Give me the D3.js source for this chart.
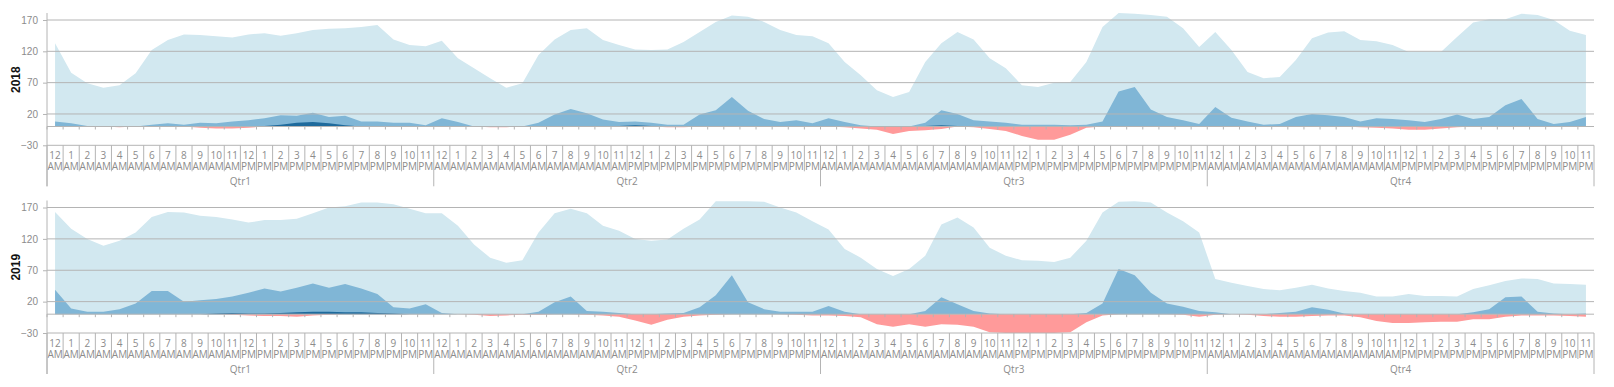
<!DOCTYPE html>
<html><head><meta charset="utf-8">
<script src="https://cdn.jsdelivr.net/npm/d3@7"></script>
<style>
html,body{margin:0;padding:0;background:#fff;}
svg{display:block;font-family:"Open Sans","Segoe UI",sans-serif;}
</style></head>
<body>
<svg id="chart" width="1614" height="387"></svg>
<script>
// ---------- DATA ----------
const quarters = ["Qtr1","Qtr2","Qtr3","Qtr4"];
const hourNums = ["12","1","2","3","4","5","6","7","8","9","10","11","12","1","2","3","4","5","6","7","8","9","10","11"];
const hourAmPm = ["AM","AM","AM","AM","AM","AM","AM","AM","AM","AM","AM","AM","PM","PM","PM","PM","PM","PM","PM","PM","PM","PM","PM","PM"];
const years = ["2018","2019"];
const yTicks = [170,120,70,20,-30];

const light2018 = [
133,86,69,62,66,85,122,138,147,146,144,142,147,149,145,149,154,156,157,159,162,139,130,128,
137,109,93,77,62,69,114,139,154,157,138,130,123,122,123,135,151,167,177,175,167,154,146,144,
133,103,82,58,47,55,103,133,151,139,109,93,66,63,70,71,103,159,181,180,178,175,157,127,
151,122,87,77,79,106,141,150,152,138,136,130,119,119,119,143,166,171,171,180,178,170,153,146];
const medium2018 = [
8,5,1,0,0,0,3,5,3,6,5,8,10,13,18,17,22,15,17,8,8,6,6,2,
13,7,0,0,0,0,6,19,28,21,11,7,8,6,3,3,19,26,47,25,12,7,10,5,
13,7,2,0,0,0,6,26,20,10,8,6,3,3,3,2,3,8,56,63,27,15,10,4,
31,14,8,3,4,15,20,18,15,8,13,12,10,7,12,19,12,15,34,44,12,4,7,15];
const dark2018 = [
0,0,0,0,0,0,0,0,0,0,0,0,0,1,3,6,7,5,2,0,0,0,0,0,
0,0,0,0,0,0,0,0,0,0,0,1,2,1,0,0,0,0,0,0,0,0,0,0,
0,0,0,0,0,0,1,2,1,0,0,0,0,0,0,0,0,0,0,0,0,0,0,0,
0,0,0,0,0,0,0,0,0,0,0,0,0,0,0,0,0,0,0,0,0,0,0,0];
const neg2018 = [
0,0,0,0,-1,0,0,0,0,-2,-3,-3,-2,0,0,0,0,0,0,0,0,0,0,0,
0,0,0,-1,-1,0,0,0,0,0,0,0,0,0,-1,-1,0,0,0,0,0,0,0,0,
0,-1,-3,-5,-12,-7,-6,-4,0,-1,-4,-7,-15,-21,-21,-13,-2,0,0,0,0,0,0,0,
0,0,0,0,0,0,0,0,0,-1,-2,-3,-5,-5,-3,-1,0,0,0,0,0,0,0,0];

const light2019 = [
163,136,120,109,117,130,155,163,162,157,155,151,146,150,150,152,161,170,172,178,178,175,168,161,
161,141,111,90,82,86,130,161,168,161,141,133,120,117,119,136,151,180,180,180,179,170,162,148,
135,104,90,72,61,72,93,143,154,138,106,93,86,85,83,90,117,162,179,180,178,162,148,130,
56,50,45,40,38,42,47,41,37,34,28,28,32,29,29,28,40,46,53,57,56,49,48,47];
const medium2019 = [
39,9,4,4,8,17,37,37,20,22,24,28,34,41,36,42,49,42,48,41,32,11,9,16,
2,0,0,0,0,0,4,19,28,5,4,2,0,0,1,2,11,30,62,19,8,4,4,4,
13,4,0,0,0,0,5,27,16,5,1,0,0,0,0,0,2,17,72,62,34,17,12,5,
3,0,0,0,2,4,11,7,1,0,0,0,0,0,0,0,3,8,27,28,4,1,0,1];
const dark2019 = [
0,0,0,0,0,0,0,0,0,0,1,2,1,1,2,3,4,4,3,3,2,1,0,0,
0,0,0,0,0,0,0,0,0,0,0,0,0,0,0,0,0,0,0,0,0,0,0,0,
0,0,0,0,0,0,0,0,0,0,0,0,0,0,0,0,0,0,0,0,0,0,0,0,
0,0,0,0,0,0,0,0,0,0,0,0,0,0,0,0,0,0,0,0,0,0,0,0];
const neg2019 = [
0,0,0,0,0,0,0,0,0,0,0,-1,-2,-3,-3,-4,-2,-1,0,0,0,0,0,0,
0,0,-1,-3,-2,-1,-1,0,0,-1,-2,-4,-10,-17,-9,-4,-2,-1,0,0,0,0,-1,-2,
-2,-3,-5,-16,-20,-16,-20,-16,-17,-20,-29,-30,-30,-30,-30,-29,-13,-2,0,0,0,0,-1,-4,
-1,0,-1,-3,-4,-4,-3,-2,-2,-5,-11,-14,-14,-13,-12,-12,-8,-8,-4,-2,-2,-2,-3,-4];

const seriesByYear = {
  "2018": {light: light2018, medium: medium2018, dark: dark2018, neg: neg2018},
  "2019": {light: light2019, medium: medium2019, dark: dark2019, neg: neg2019}
};

// ---------- LAYOUT ----------
const colors = {light:"#d2e8f0", medium:"#80b6d6", dark:"#1e6a9c", neg:"#ff9a9a"};
const gridColor = "#b4b4b4";
const textColor = "#8c8c8c";
const left = 47, right = 1594;
const panels = [{top:20, bottom:145.3}, {top:207.5, bottom:333}];

const keys = [];
quarters.forEach((q,qi)=>hourNums.forEach((h,hi)=>keys.push(qi*24+hi)));

const x = d3.scaleBand().domain(keys).range([left,right]).paddingInner(0).paddingOuter(0);
const cx = i => x(i) + x.bandwidth()/2;

const svg = d3.select("#chart");

years.forEach((yr, pi) => {
  const p = panels[pi];
  const y = d3.scaleLinear().domain([-30,170]).range([p.bottom, p.top]);
  const g = svg.append("g");
  const s = seriesByYear[yr];

  const area = d3.area().x((d,i)=>cx(i)).y0(y(0)).y1(d=>y(d)).curve(d3.curveLinear);
  ["light","medium","dark","neg"].forEach(k=>{
    g.append("path").datum(s[k]).attr("d", area).attr("fill", colors[k]);
  });

  // gridlines & y axis
  const yAxis = d3.axisLeft(y).tickValues(yTicks).tickSize(4).tickPadding(5);
  const ya = g.append("g").attr("transform",`translate(${left},0)`).call(yAxis);
  ya.select(".domain").remove();
  ya.selectAll("line").attr("stroke", gridColor);
  ya.selectAll("text").attr("fill", textColor).attr("font-size", 10).attr("x",-9);
  yTicks.forEach(t=>{
    g.append("line").attr("x1",left).attr("x2",right).attr("y1",y(t)).attr("y2",y(t))
      .attr("stroke",gridColor).attr("stroke-width",1);
  });
  // zero line with ticks
  const xz = d3.axisBottom(x).tickValues([]).tickSizeOuter(0);
  g.append("line").attr("x1",left).attr("x2",right).attr("y1",y(0)).attr("y2",y(0))
    .attr("stroke",gridColor);
  keys.forEach(i=>{
    g.append("line").attr("x1",x(i)).attr("x2",x(i)).attr("y1",y(0)).attr("y2",y(0)+3)
      .attr("stroke",gridColor);
  });
  // vertical y axis line
  g.append("line").attr("x1",left).attr("x2",left).attr("y1",p.top-7).attr("y2",p.bottom+41)
    .attr("stroke",gridColor);

  // category axis: hours
  const base = p.bottom;
  keys.forEach(i=>{
    const hi = i % 24;
    if (hi !== 0) {
      g.append("line").attr("x1",x(i)).attr("x2",x(i)).attr("y1",base).attr("y2",base+26)
        .attr("stroke",gridColor);
    }
    g.append("text").attr("x",cx(i)).attr("y",base+13.5).attr("text-anchor","middle")
      .attr("font-size",10).attr("fill",textColor).text(hourNums[hi]);
    g.append("text").attr("x",cx(i)).attr("y",base+24.5).attr("text-anchor","middle")
      .attr("font-size",10).attr("fill",textColor).text(hourAmPm[hi]);
  });
  // quarters
  quarters.forEach((q,qi)=>{
    const x0 = x(qi*24), x1 = x(qi*24+23)+x.bandwidth();
    g.append("line").attr("x1",x0).attr("x2",x0).attr("y1",base).attr("y2",base+41).attr("stroke",gridColor);
    if (qi===3) g.append("line").attr("x1",x1).attr("x2",x1).attr("y1",base).attr("y2",base+41).attr("stroke",gridColor);
    g.append("text").attr("x",(x0+x1)/2).attr("y",base+40).attr("text-anchor","middle")
      .attr("font-size",10).attr("fill",textColor).text(q);
  });

  // year label
  const cy = (p.top+p.bottom)/2 - 3;
  g.append("text").attr("transform",`translate(20,${cy}) rotate(-90)`).attr("text-anchor","middle")
    .attr("font-family","Liberation Sans, Arial, sans-serif")
    .attr("font-weight","bold").attr("font-size",12).attr("fill","#111").text(yr);
});
</script>
</body></html>
